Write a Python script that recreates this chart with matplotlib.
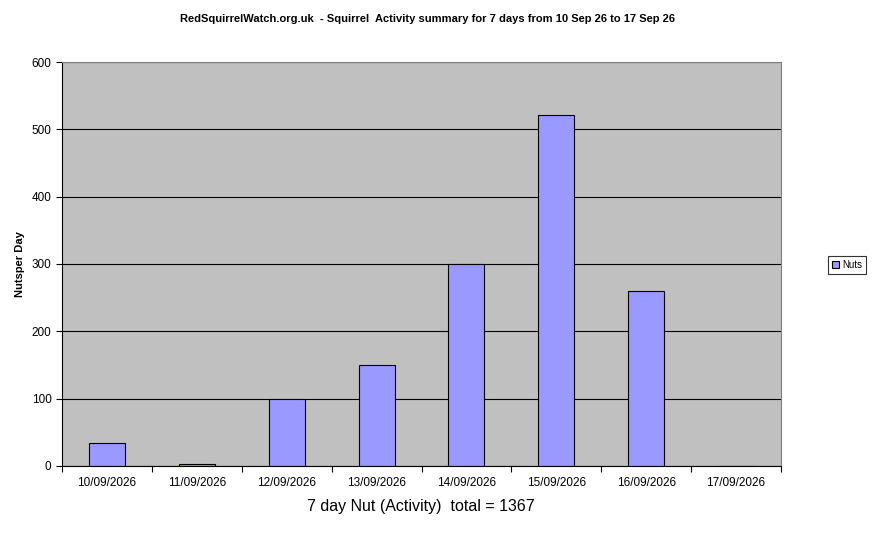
import matplotlib.pyplot as plt
import numpy as np

plt.rcParams['font.family'] = ['Liberation Sans', 'DejaVu Sans']

dates = ['10/09/2026', '11/09/2026', '12/09/2026', '13/09/2026',
         '14/09/2026', '15/09/2026', '16/09/2026', '17/09/2026']
nuts = [34, 3, 100, 150, 300, 521, 260, 0]
total = 1367

fig = plt.figure(figsize=(8.72, 5.33), dpi=100)
ax = fig.add_axes([62 / 872, 1 - 466 / 533, 719 / 872, 404 / 533])
ax.set_facecolor('#c0c0c0')

x = np.arange(len(dates))
ax.set_axisbelow(True)
ax.yaxis.grid(True, color='black', linewidth=0.8)
bars = ax.bar(x, nuts, width=0.4, color='#9999ff', edgecolor='black',
              linewidth=0.8, label='Nuts')

ax.set_xlim(-0.5, len(dates) - 0.5)
ax.set_ylim(0, 600)
ax.set_yticks(range(0, 601, 100))
ax.set_xticks(np.arange(-0.5, len(dates), 1.0))
ax.set_xticklabels([])
ax.set_xticks(x, minor=True)
ax.set_xticklabels(dates, minor=True)
ax.tick_params(axis='x', which='minor', length=0, labelsize=8.5, pad=8)
ax.tick_params(axis='x', which='major', length=4, direction='out')
ax.tick_params(axis='y', labelsize=8.5, length=4, direction='out')
for s in ['top', 'right']:
    ax.spines[s].set_color('#808080')

fig.text(0.49, 1 - 19 / 533, 'RedSquirrelWatch.org.uk  - Squirrel  Activity summary for 7 days from 10 Sep 26 to 17 Sep 26',
         ha='center', va='center', fontsize=8, fontweight='bold')
fig.text(20 / 872, 1 - 264 / 533, 'Nutsper Day', rotation=90, ha='center', va='center',
         fontsize=8, fontweight='bold')
fig.text(421 / 872, 1 - 506 / 533, f'7 day Nut (Activity)  total = {total}',
         ha='center', va='center', fontsize=11.5)

leg = fig.legend(handles=[bars], labels=['Nuts'], loc='center',
                 bbox_to_anchor=(847 / 872, 1 - 265 / 533), fontsize=7,
                 frameon=True, fancybox=False, edgecolor='black',
                 handlelength=0.8, handleheight=0.8, handletextpad=0.3,
                 borderpad=0.4, borderaxespad=0)
leg.get_frame().set_linewidth(0.8)

fig.savefig('out.png', dpi=100)
